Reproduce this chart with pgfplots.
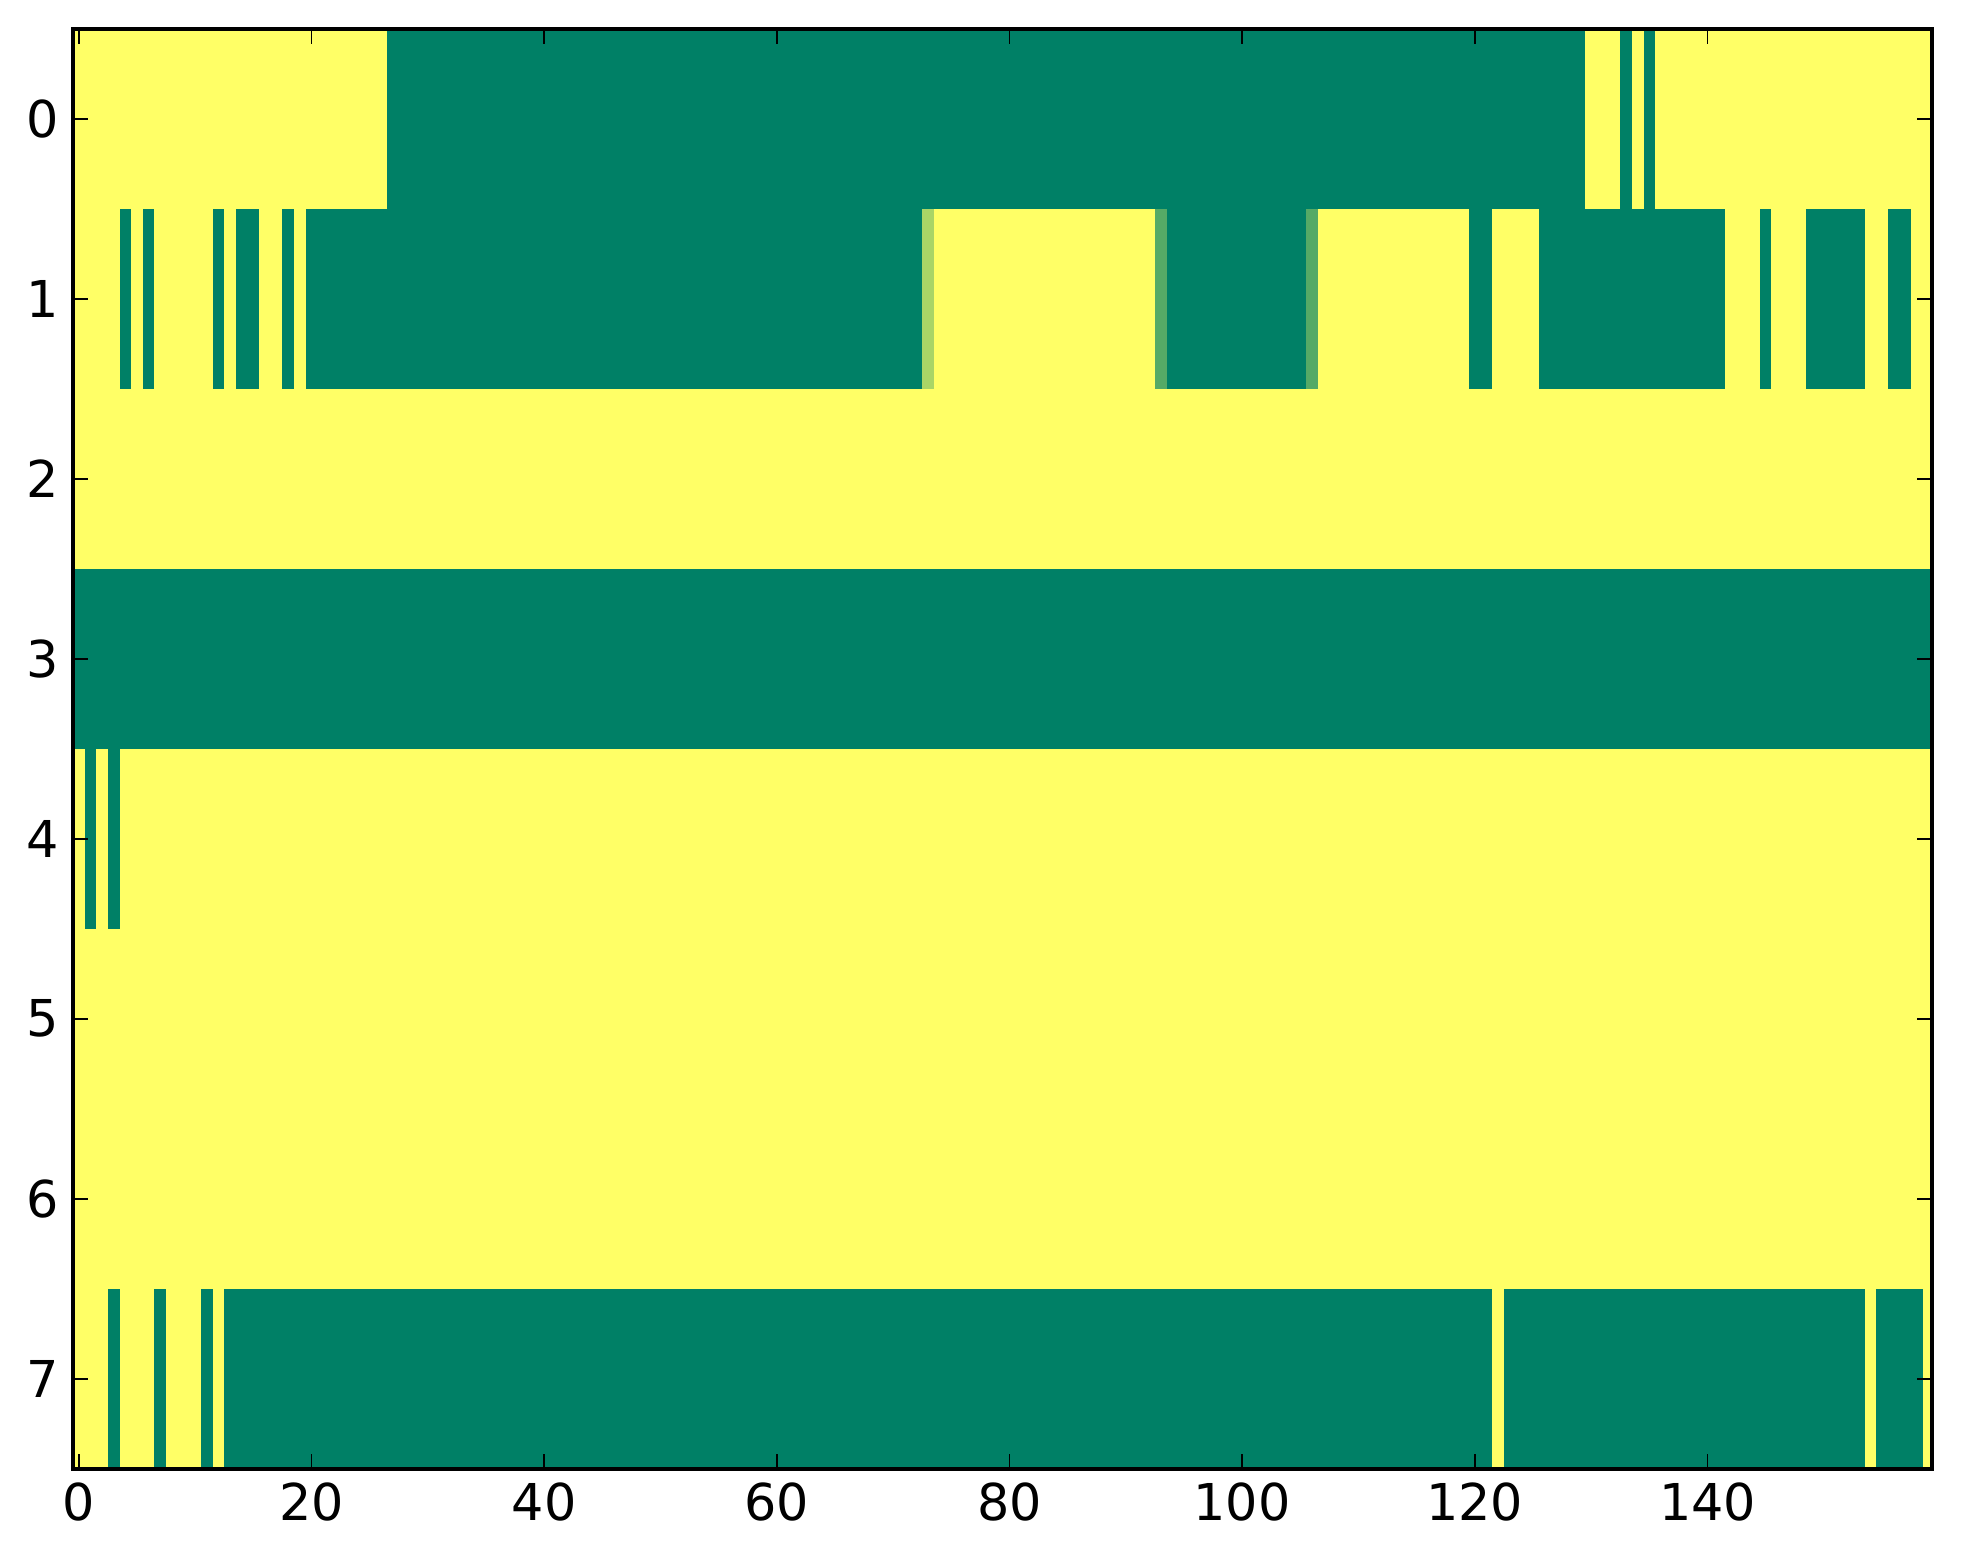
\documentclass[border=0pt]{standalone}
\usepackage{fontspec}
\setmainfont{DejaVu Sans}
\usepackage{pgfplots}
\pgfplotsset{compat=1.18}

% summer colormap: 0 -> green, 1 -> yellow
\definecolor{sumlo}{RGB}{0,128,102}
\definecolor{sumhi}{RGB}{255,255,102}
\definecolor{sumlight}{RGB}{170,213,102}
\definecolor{summid}{RGB}{85,170,102}

% one block of cells: x0 x1 y0 y1 colour
\newcommand{\cellrun}[5]{%
  \addplot[fill=#5,draw=none,forget plot] coordinates {(#1,#3) (#2,#3) (#2,#4) (#1,#4)} -- cycle;}

\begin{document}
\begin{tikzpicture}
\begin{axis}[
  scale only axis,
  width=464.75pt,
  height=360pt,
  xmin=-0.5, xmax=159.3,
  ymin=-0.5, ymax=7.5,
  y dir=reverse,
  xtick={0,20,...,140},
  ytick={0,...,7},
  tick pos=both,
  tick align=inside,
  major tick length=3.7pt,
  tick style={black,line width=0.4pt},
  axis line style={line width=0.85pt},
  axis on top=true,
  font=\fontsize{12.7}{15}\selectfont,
  /pgf/number format/assume math mode=true,
  clip=true,
]
% background: value 1
\cellrun{-0.5}{159.5}{-0.5}{7.5}{sumhi}
% row 0
\cellrun{26.5}{129.5}{-0.5}{0.5}{sumlo}
\cellrun{132.5}{133.5}{-0.5}{0.5}{sumlo}
\cellrun{134.5}{135.5}{-0.5}{0.5}{sumlo}
% row 1
\cellrun{3.5}{4.5}{0.5}{1.5}{sumlo}
\cellrun{5.5}{6.5}{0.5}{1.5}{sumlo}
\cellrun{11.5}{12.5}{0.5}{1.5}{sumlo}
\cellrun{13.5}{15.5}{0.5}{1.5}{sumlo}
\cellrun{17.5}{18.5}{0.5}{1.5}{sumlo}
\cellrun{19.5}{72.5}{0.5}{1.5}{sumlo}
\cellrun{72.5}{73.5}{0.5}{1.5}{sumlight}
\cellrun{92.5}{93.5}{0.5}{1.5}{summid}
\cellrun{93.5}{105.5}{0.5}{1.5}{sumlo}
\cellrun{105.5}{106.5}{0.5}{1.5}{summid}
\cellrun{119.5}{121.5}{0.5}{1.5}{sumlo}
\cellrun{125.5}{141.5}{0.5}{1.5}{sumlo}
\cellrun{144.5}{145.5}{0.5}{1.5}{sumlo}
\cellrun{148.5}{153.5}{0.5}{1.5}{sumlo}
\cellrun{155.5}{157.5}{0.5}{1.5}{sumlo}
% row 3
\cellrun{-0.5}{159.5}{2.5}{3.5}{sumlo}
% row 4
\cellrun{0.5}{1.5}{3.5}{4.5}{sumlo}
\cellrun{2.5}{3.5}{3.5}{4.5}{sumlo}
% row 7
\cellrun{2.5}{3.5}{6.5}{7.5}{sumlo}
\cellrun{6.5}{7.5}{6.5}{7.5}{sumlo}
\cellrun{10.5}{11.5}{6.5}{7.5}{sumlo}
\cellrun{12.5}{121.5}{6.5}{7.5}{sumlo}
\cellrun{122.5}{153.5}{6.5}{7.5}{sumlo}
\cellrun{154.5}{158.5}{6.5}{7.5}{sumlo}
\end{axis}
\path[use as bounding box] ([xshift=-18.25pt,yshift=-23.8pt]current axis.south west) rectangle ([xshift=7.75pt,yshift=7.2pt]current axis.north east);
\end{tikzpicture}
\end{document}
